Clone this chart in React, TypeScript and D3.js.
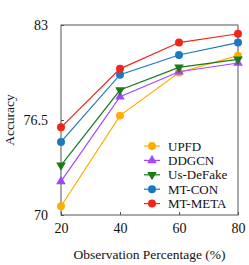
import { useEffect, useRef } from "react";
import * as d3 from "d3";

const xValues = [20, 40, 60, 80];
const seriesNames = ["UPFD", "DDGCN", "Us-DeFake", "MT-CON", "MT-META"];
const upfd = [70.6, 76.8, 79.75, 80.9];
const ddgcn = [72.3, 78.1, 79.8, 80.4];
const usDeFake = [73.4, 78.55, 80.1, 80.65];
const mtCon = [75.0, 79.6, 80.95, 81.8];
const mtMeta = [76.0, 80.0, 81.8, 82.4];
const yTicks = [70, 76.5, 83];
const colors = ["#ffae00", "#a347ff", "#1a7a1a", "#1a7abf", "#f0261a"];
const symbols = ["circle", "triangleUp", "triangleDown", "circle", "circle"];

const App = () => {
  const ref = useRef<SVGSVGElement>(null);

  useEffect(() => {
    const svg = d3.select(ref.current);
    svg.selectAll("*").remove();
    const width = 249;
    const height = 265;
    const marginLeft = 61;
    const marginRight = 11;
    const marginTop = 25;
    const marginBottom = 50;
    const font = "Liberation Serif, Times New Roman, DejaVu Serif, serif";

    const x = d3.scaleLinear([20, 80], [marginLeft, width - marginRight]);
    const y = d3.scaleLinear([70, 83], [height - marginBottom, marginTop]);

    const allSeries = [upfd, ddgcn, usDeFake, mtCon, mtMeta];

    // frame
    svg.append("rect")
      .attr("x", marginLeft)
      .attr("y", marginTop)
      .attr("width", width - marginRight - marginLeft)
      .attr("height", height - marginBottom - marginTop)
      .attr("fill", "none")
      .attr("stroke", "#555")
      .attr("stroke-width", 1);

    const xAxis = d3.axisBottom(x).tickValues(xValues).tickSize(-3).tickPadding(8);
    svg.append("g")
      .attr("transform", `translate(0,${height - marginBottom})`)
      .call(xAxis)
      .call(g => g.select(".domain").remove())
      .call(g => g.selectAll(".tick line").attr("stroke", "#555"))
      .call(g => g.selectAll(".tick text")
        .style("font-family", font)
        .attr("font-size", 14)
        .attr("fill", "#111"));

    const yAxis = d3.axisLeft(y).tickValues(yTicks).tickSize(-3).tickPadding(13)
      .tickFormat(d => String(d));
    svg.append("g")
      .attr("transform", `translate(${marginLeft},0)`)
      .call(yAxis)
      .call(g => g.select(".domain").remove())
      .call(g => g.selectAll(".tick line").attr("stroke", "#555"))
      .call(g => g.selectAll(".tick text")
        .style("font-family", font)
        .attr("font-size", 14)
        .attr("fill", "#111"));

    // axis titles
    svg.append("text")
      .attr("x", (marginLeft + width - marginRight) / 2)
      .attr("y", 259)
      .attr("text-anchor", "middle")
      .style("font-family", font)
      .attr("font-size", 13.5)
      .attr("fill", "#111")
      .text("Observation Percentage (%)");

    svg.append("text")
      .attr("transform", `translate(14,${(marginTop + height - marginBottom) / 2}) rotate(-90)`)
      .attr("text-anchor", "middle")
      .style("font-family", font)
      .attr("font-size", 13.5)
      .attr("fill", "#111")
      .text("Accuracy");

    const symbolFor = (s: string) =>
      s === "circle" ? d3.symbol(d3.symbolCircle, 50)
        : d3.symbol(d3.symbolTriangle, 40);

    const line = d3.line<number>()
      .x((d, i) => x(xValues[i]))
      .y(d => y(d));

    allSeries.forEach((vals, si) => {
      svg.append("path")
        .datum(vals)
        .attr("d", line)
        .attr("fill", "none")
        .attr("stroke", colors[si])
        .attr("stroke-width", 1.2);

      svg.append("g")
        .selectAll("path")
        .data(vals)
        .join("path")
        .attr("d", symbolFor(symbols[si])())
        .attr("transform", (d, i) =>
          `translate(${x(xValues[i])},${y(d)})` + (symbols[si] === "triangleDown" ? " rotate(180)" : ""))
        .attr("fill", colors[si]);
    });

    // legend
    const legend = svg.append("g");
    seriesNames.forEach((name, i) => {
      const ly = 146 + i * 14.4;
      legend.append("line")
        .attr("x1", 144).attr("x2", 160)
        .attr("y1", ly).attr("y2", ly)
        .attr("stroke", colors[i])
        .attr("stroke-width", 1.2);
      legend.append("path")
        .attr("d", symbolFor(symbols[i])())
        .attr("transform", `translate(152,${ly})` + (symbols[i] === "triangleDown" ? " rotate(180)" : ""))
        .attr("fill", colors[i]);
      legend.append("text")
        .attr("x", 168)
        .attr("y", ly)
        .attr("dy", "0.35em")
        .style("font-family", font)
        .attr("font-size", 13)
        .attr("fill", "#111")
        .text(name);
    });
  }, []);

  return <svg ref={ref} width={249} height={265} style={{ position: "absolute", left: 0, top: 0 }} />;
};

export default App;
